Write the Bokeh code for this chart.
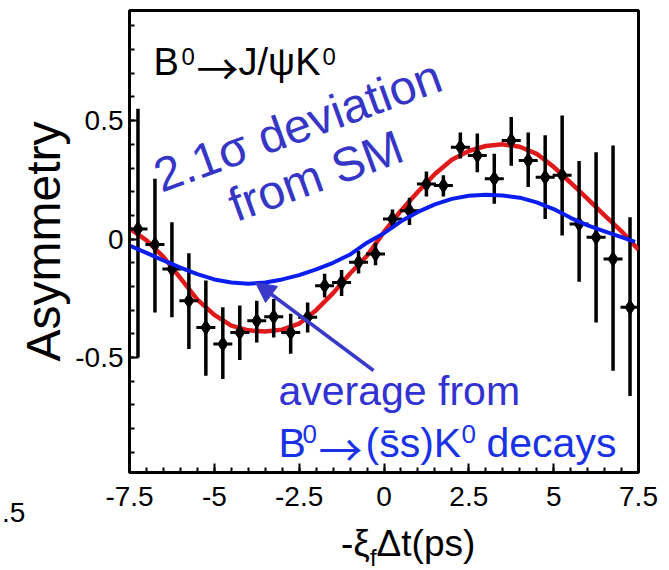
import numpy as np
from bokeh.plotting import figure
from bokeh.models import FixedTicker, Label, Arrow, NormalHead, Range1d, Div
from bokeh.layouts import column
from bokeh.embed import file_html
from bokeh.resources import INLINE

# ---- data ----
dt_bins = [-7.25, -6.75, -6.25, -5.75, -5.25, -4.75, -4.25, -3.75, -3.25, -2.75,
           -2.25, -1.75, -1.25, -0.75, -0.25, 0.25, 0.75, 1.25, 1.75, 2.25,
           2.75, 3.25, 3.75, 4.25, 4.75, 5.25, 5.75, 6.25, 6.75, 7.25]
asym = [0.043, -0.023, -0.126, -0.26, -0.373, -0.443, -0.394, -0.345, -0.328, -0.394,
        -0.33, -0.197, -0.183, -0.098, -0.063, 0.085, 0.12, 0.233, 0.226, 0.388,
        0.353, 0.255, 0.416, 0.332, 0.261, 0.27, 0.064, 0.008, -0.084, -0.288]
err_top = [0.55, 0.255, 0.071, -0.06, -0.175, -0.288, -0.28, -0.26, -0.253, -0.315,
           -0.267, -0.146, -0.13, -0.05, -0.015, 0.125, 0.175, 0.285, 0.27, 0.45,
           0.446, 0.36, 0.515, 0.45, 0.438, 0.522, 0.33, 0.367, 0.395, 0.092]
err_bot = [-0.50, -0.31, -0.33, -0.464, -0.577, -0.59, -0.51, -0.436, -0.415, -0.484,
           -0.394, -0.246, -0.24, -0.145, -0.11, 0.045, 0.06, 0.18, 0.18, 0.34,
           0.282, 0.149, 0.31, 0.22, 0.085, 0.015, -0.18, -0.352, -0.556, -0.662]

fit_t = [-7.5, -7.0, -6.5, -6.0, -5.5, -5.0, -4.5, -4.0, -3.5, -3.0, -2.5, -2.0, -1.5,
         -1.0, -0.5, 0.0, 0.5, 1.0, 1.5, 2.0, 2.5, 3.0, 3.5, 4.0, 4.5, 5.0, 5.5, 6.0,
         6.5, 7.0, 7.5]
fit_asym = [0.045, -0.005, -0.075, -0.165, -0.255, -0.32, -0.365, -0.385, -0.39, -0.382,
            -0.357, -0.30, -0.228, -0.145, -0.07, 0.03, 0.12, 0.20, 0.275, 0.335, 0.372,
            0.393, 0.40, 0.39, 0.36, 0.305, 0.238, 0.17, 0.10, 0.033, -0.045]

sm_t = [-7.5, -7.0, -6.5, -6.0, -5.5, -5.0, -4.5, -4.0, -3.5, -3.0, -2.5, -2.0, -1.5,
        -1.0, -0.5, 0.0, 0.5, 1.0, 1.5, 2.0, 2.5, 3.0, 3.5, 4.0, 4.5, 5.0, 5.5, 6.0,
        6.5, 7.0, 7.4]
sm_asym = [-0.027, -0.058, -0.09, -0.12, -0.148, -0.17, -0.183, -0.188, -0.183, -0.17,
           -0.152, -0.128, -0.10, -0.065, -0.015, 0.025, 0.075, 0.115, 0.147, 0.17,
           0.183, 0.187, 0.184, 0.175, 0.155, 0.127, 0.09, 0.058, 0.033, 0.008, -0.012]

x_major = [-7.5, -5, -2.5, 0, 2.5, 5, 7.5]
x_tick_labels = ["-7.5", "-5", "-2.5", "0", "2.5", "5", "7.5"]
y_major = [-0.5, 0, 0.5]
y_tick_labels = ["-0.5", "0", "0.5"]

X0, X1 = -7.5, 7.5
Y0, Y1 = -0.985, 0.965

# reference-picture pixel -> data helpers (frame: x 129..638, y 10..472)
def dx(px):
    return X0 + (px - 129) * (X1 - X0) / 509.0

def dy(py):
    return Y1 - (py - 10) * (Y1 - Y0) / 462.0

FONT = "Liberation Sans"
ARROW_FONT = "Noto Sans CJK JP"

p = figure(frame_width=509, frame_height=462,
           x_range=Range1d(X0, X1), y_range=Range1d(Y0, Y1),
           output_backend="svg", toolbar_location=None,
           min_border_left=129, min_border_right=31,
           min_border_top=10, min_border_bottom=48)
p.xgrid.visible = False
p.ygrid.visible = False
p.outline_line_color = "black"
p.outline_line_width = 3
p.outline_line_alpha = 1.0
p.background_fill_color = "white"
p.border_fill_color = "white"

p.xaxis.ticker = FixedTicker(ticks=x_major,
                             minor_ticks=[float(v) for v in np.arange(-7.5, 7.51, 0.5)])
p.yaxis.ticker = FixedTicker(ticks=y_major,
                             minor_ticks=[float(v) for v in np.round(np.arange(-0.9, 0.91, 0.1), 2)])
p.xaxis.major_label_overrides = dict(zip(x_major, x_tick_labels))
p.yaxis.major_label_overrides = dict(zip(y_major, y_tick_labels))

for ax in (p.xaxis[0], p.yaxis[0]):
    ax.axis_line_width = 3
    ax.axis_line_color = "black"
    ax.major_tick_in = 9
    ax.major_tick_out = 0
    ax.minor_tick_in = 5
    ax.minor_tick_out = 0
    ax.major_tick_line_width = 2
    ax.minor_tick_line_width = 2
    ax.major_tick_line_color = "black"
    ax.minor_tick_line_color = "black"
    ax.major_label_text_font = FONT
    ax.major_label_text_font_size = "28px"
    ax.major_label_text_color = "black"
p.xaxis.major_label_standoff = 14
p.yaxis.major_label_standoff = 6

p.yaxis.axis_label = "Asymmetry"
p.yaxis.axis_label_text_font = FONT
p.yaxis.axis_label_text_font_size = "48px"
p.yaxis.axis_label_text_font_style = "normal"
p.yaxis.axis_label_text_color = "black"
p.yaxis.axis_label_standoff = 2

# fit curve (red)
p.line(fit_t, fit_asym, line_color="#e01a1a", line_width=4.5)
# data points with error bars
p.segment(x0=dt_bins, y0=err_bot, x1=dt_bins, y1=err_top, line_color="black", line_width=3.5)
p.scatter(dt_bins, asym, marker="diamond", size=15, fill_color="black", line_color="black")
p.scatter(dt_bins, asym, marker="dash", size=19, line_color="black", line_width=3)
# SM expectation (blue)
p.line(sm_t, sm_asym, line_color="#0a1ef0", line_width=4)


def put(px, py, text, size, color="black", font=FONT, angle=0.0, align="left"):
    # (px, py): wanted baseline anchor in reference pixels
    comp = 0.35 * size
    ax_ = px - comp * np.sin(angle)
    ay_ = py - comp * np.cos(angle)
    p.add_layout(Label(x=dx(ax_), y=dy(ay_), text=text, angle=angle,
                       text_font=font, text_font_size=f"{size}px", text_color=color,
                       text_align=align, text_baseline="alphabetic"))


# B0 -> J/psi K0
put(153, 75, "B", 38)
put(181, 64, "0", 24)
put(196, 81, "\u2192", 42, font=ARROW_FONT)
put(238, 75, "J/\u03c8K", 38)
put(322, 64, "0", 24)

ang = np.radians(20)
put(303, 141, "2.1\u03c3 deviation", 48, color="#3636c6", angle=ang, align="center")
put(321, 191, "from SM", 48, color="#3636c6", angle=ang, align="center")

put(278, 405, "average from", 41, color="#3232d2")
BLUE2 = "#1a32e6"
put(278, 457, "B", 41, color=BLUE2)
put(302, 443, "0", 26, color=BLUE2)
put(318, 463, "\u2192", 44, color=BLUE2, font=ARROW_FONT)
put(365, 457, "(s\u0304s)K", 41, color=BLUE2)
put(461, 443, "0", 26, color=BLUE2)
put(486, 457, "decays", 41, color=BLUE2)

p.add_layout(Arrow(end=NormalHead(size=20, fill_color="#3a3ac8", line_color="#3a3ac8"),
                   x_start=dx(373), y_start=dy(370), x_end=dx(255), y_end=dy(282),
                   line_width=3.5, line_color="#3a3ac8"))

# x-axis title (with subscript) and neighbouring-panel fragment below the figure
title_html = (
    '<div style="position:relative;width:669px;height:50px;'
    'font-family:\'Liberation Sans\';color:black;overflow:visible;">'
    '<span style="position:absolute;left:341px;top:5px;font-size:37px;line-height:37px;'
    'white-space:nowrap;">-\u03be<span style="font-size:24px;position:relative;top:10px;">f</span>'
    '\u0394t(ps)</span>'
    '<span style="position:absolute;left:2px;top:-21px;font-size:28px;line-height:28px;'
    'white-space:nowrap;">.5</span>'
    '</div>'
)
title_div = Div(text=title_html, width=669, height=50, margin=0)

layout = column(p, title_div, spacing=0)
open("out.html", "w").write(file_html(layout, INLINE))
